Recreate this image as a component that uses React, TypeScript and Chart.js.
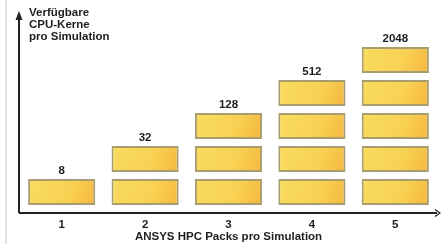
import React, { useEffect, useRef } from "react";
import { Chart, registerables } from "chart.js";

Chart.register(...registerables);

const packs = ["1", "2", "3", "4", "5"];
const cores = [8, 32, 128, 512, 2048];
const boxCounts = [1, 2, 3, 4, 5];
const yTitle = ["Verfügbare", "CPU-Kerne", "pro Simulation"];
const xTitle = "ANSYS HPC Packs pro Simulation";

const BOX_LOW = 0.24;
const BOX_HIGH = 1.03;
const FONT = "bold 11.5px 'Liberation Sans', Arial, sans-serif";

export default function App() {
  const ref = useRef<HTMLCanvasElement>(null);
  useEffect(() => {
    const maxRows = Math.max(...boxCounts);
    const datasets = [] as any[];
    for (let r = 0; r < maxRows; r++) {
      datasets.push({
        label: "row" + r,
        data: boxCounts.map((n) => (n > r ? [r + BOX_LOW, r + BOX_HIGH] : null)),
        borderColor: "#a89d6e",
        borderWidth: 2,
        borderSkipped: false,
        barPercentage: 0.805,
        categoryPercentage: 1,
        backgroundColor: (ctx: any) => {
          const chart = ctx.chart;
          const xs = chart.scales.x;
          const ys = chart.scales.y;
          const raw = ctx.raw;
          if (!xs || !ys || !raw || !chart.chartArea) return "#f7c94e";
          const cx = xs.getPixelForValue(ctx.dataIndex);
          const w = 34;
          const top = ys.getPixelForValue(raw[1]);
          const bot = ys.getPixelForValue(raw[0]);
          const g = chart.ctx.createLinearGradient(cx - w, top, cx + w, bot);
          g.addColorStop(0, "#f9dc5e");
          g.addColorStop(0.6, "#f8d153");
          g.addColorStop(1, "#f5b640");
          return g;
        },
      });
    }

    const decor = {
      id: "decor",
      afterDraw(chart: any) {
        const c = chart.ctx;
        const a = chart.chartArea;
        const xs = chart.scales.x;
        const ys = chart.scales.y;
        c.save();
        c.fillStyle = "#e2e2e2";
        c.fillRect(5, 0, 2, 244);
        c.strokeStyle = "#222";
        c.fillStyle = "#222";
        c.lineWidth = 2;
        const ax = a.left - 1;
        const ay = a.bottom;
        c.beginPath();
        c.moveTo(ax, ay);
        c.lineTo(ax, a.top + 4);
        c.moveTo(ax, ay);
        c.lineTo(chart.width - 4, ay);
        c.stroke();
        c.beginPath();
        c.moveTo(ax, a.top - 1);
        c.lineTo(ax - 3.5, a.top + 8);
        c.lineTo(ax + 3.5, a.top + 8);
        c.closePath();
        c.fill();
        c.lineWidth = 1.3;
        c.beginPath();
        c.moveTo(chart.width - 6, ay - 3.5);
        c.lineTo(chart.width - 1, ay);
        c.lineTo(chart.width - 6, ay + 3.5);
        c.stroke();
        c.font = FONT;
        c.fillStyle = "#1e1e1e";
        c.textBaseline = "middle";
        c.textAlign = "left";
        yTitle.forEach((t, i) => c.fillText(t, 29, 13 + i * 12));
        c.textAlign = "center";
        packs.forEach((p, i) => {
          const x = xs.getPixelForValue(i);
          c.fillText(p, x, 225);
          const topRow = boxCounts[i] - 1;
          const y = ys.getPixelForValue(topRow + BOX_HIGH);
          c.fillText(String(cores[i]), x, y - 8);
        });
        c.fillText(xTitle, 228.5, 237);
        c.restore();
      },
    };

    const chart = new Chart(ref.current!, {
      type: "bar",
      data: { labels: packs, datasets },
      options: {
        animation: false,
        responsive: false,
        layout: { padding: { left: 20, right: 4, top: 12, bottom: 31 } },
        plugins: { legend: { display: false }, tooltip: { enabled: false } },
        scales: {
          x: { display: false, stacked: true },
          y: { display: false, stacked: false, min: 0, max: 201 / 33 },
        },
      },
      plugins: [decor],
    });
    return () => chart.destroy();
  }, []);
  return (
    <div style={{ position: "absolute", left: 0, top: 0, width: 441, height: 244, background: "#fff" }}>
      <canvas ref={ref} width={441} height={244} style={{ display: "block" }} />
    </div>
  );
}
